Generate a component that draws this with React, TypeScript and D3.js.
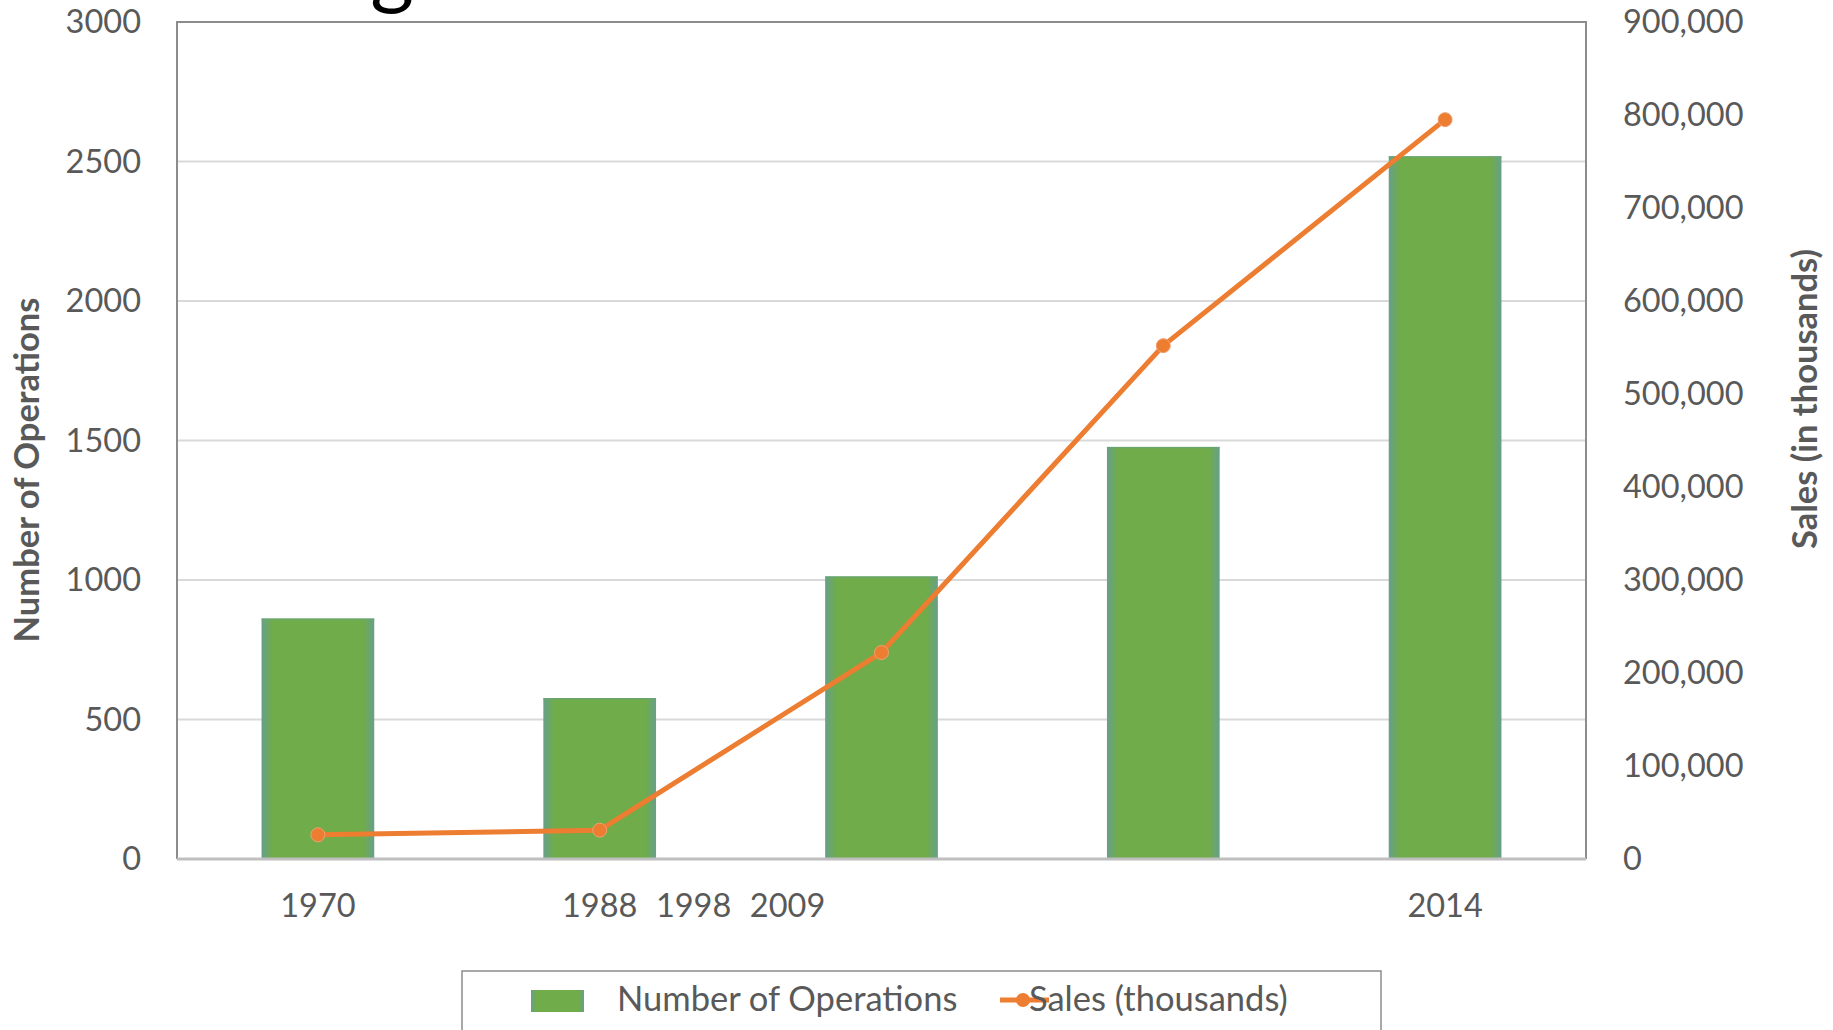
import React from "react";
import * as d3 from "d3";

const categories = ["1970", "1988", "1998", "2009", "2014"];
const operations = [862, 577, 1013, 1477, 2519];
const sales = [26000, 31000, 222000, 552000, 795000];
const xTickLabels = ["1970", "1988", "1998", "2009", "2014"];
const xTickIndex = [0, 1, 4 / 3, 5 / 3, 4];
const leftTicks = [0, 500, 1000, 1500, 2000, 2500, 3000];
const rightTicks = [0, 100000, 200000, 300000, 400000, 500000, 600000, 700000, 800000, 900000];

const W = 1833;
const H = 1030;
const L = 177;
const R = 1586;
const T = 22;
const B = 859;
const FONT = "Lato, 'Open Sans', sans-serif";
const GRAY = "#595959";

export default function App() {
  const x = d3.scaleBand<string>().domain(categories).range([L, R]).paddingInner(0.6).paddingOuter(0.3);
  const xi = d3.scaleLinear().domain([-0.5, categories.length - 0.5]).range([L, R]);
  const yL = d3.scaleLinear().domain([0, 3000]).range([B, T]);
  const yR = d3.scaleLinear().domain([0, 900000]).range([B, T]);
  const fmt = d3.format(",");
  const line = d3
    .line<number>()
    .x((_, i) => (x(categories[i]) as number) + x.bandwidth() / 2)
    .y((d) => yR(d));

  return (
    <svg width={W} height={H} style={{ position: "absolute", left: 0, top: 0, background: "#fff" }} fontFamily={FONT}>
      <defs>
        <linearGradient id="barH" x1="0" x2="1" y1="0" y2="0">
          <stop offset="0" stopColor="#66a08a" />
          <stop offset="0.1" stopColor="#70ac49" />
          <stop offset="0.9" stopColor="#70ac49" />
          <stop offset="1" stopColor="#66a08a" />
        </linearGradient>
        <linearGradient id="barV" x1="0" x2="0" y1="0" y2="1">
          <stop offset="0" stopColor="#66a08a" stopOpacity="0.8" />
          <stop offset="0.5" stopColor="#70ac49" stopOpacity="0" />
          <stop offset="1" stopColor="#70ac49" stopOpacity="0" />
        </linearGradient>
      </defs>
      <rect x={0} y={0} width={W} height={H} fill="#fff" />
      <text x={392} y={-2} fontSize={84} textAnchor="middle" fill="#000" fontFamily={FONT}>
        g
      </text>

      {/* gridlines */}
      {leftTicks.map((t) => (
        <line key={"g" + t} x1={L} x2={R} y1={yL(t)} y2={yL(t)} stroke="#d9d9d9" strokeWidth={2} />
      ))}

      {/* plot border */}
      <path d={`M${L},${B} L${L},${T} L${R},${T} L${R},${B}`} fill="none" stroke="#8c8c8c" strokeWidth={2} />

      {/* bars */}
      {operations.map((v, i) => {
        const bx = x(categories[i]) as number;
        const by = yL(v);
        const h = yL(0) - by;
        return (
          <g key={"b" + i}>
            <rect x={bx} y={by} width={x.bandwidth()} height={h} fill="url(#barH)" />
            <rect x={bx} y={by} width={x.bandwidth()} height={Math.min(6, h)} fill="url(#barV)" />
          </g>
        );
      })}

      {/* x axis line */}
      <line x1={L} x2={R} y1={B} y2={B} stroke="#bfbfbf" strokeWidth={3} />

      {/* line series */}
      <path d={line(sales) as string} fill="none" stroke="#ed7d31" strokeWidth={5} strokeLinejoin="round" />
      {sales.map((v, i) => (
        <circle
          key={"c" + i}
          cx={(x(categories[i]) as number) + x.bandwidth() / 2}
          cy={yR(v)}
          r={7}
          fill="#ed7d31"
          stroke="#f0a070"
          strokeWidth={1}
        />
      ))}

      {/* left ticks */}
      {leftTicks.map((t) => (
        <text key={"l" + t} x={141} y={yL(t)} dy="0.35em" textAnchor="end" fontSize={32.5} fill={GRAY}>
          {t}
        </text>
      ))}
      {/* right ticks */}
      {rightTicks.map((t) => (
        <text key={"r" + t} x={1623} y={yR(t)} dy="0.35em" textAnchor="start" fontSize={32.5} fill={GRAY}>
          {fmt(t)}
        </text>
      ))}
      {/* x labels */}
      {xTickLabels.map((t, i) => (
        <text key={"x" + t} x={xi(xTickIndex[i])} y={917} textAnchor="middle" fontSize={32.5} fill={GRAY}>
          {t}
        </text>
      ))}

      {/* axis titles */}
      <text
        transform={`translate(39,470) rotate(-90)`}
        textAnchor="middle"
        fontSize={34.5}
        fontWeight="bold"
        fill={GRAY}
      >
        Number of Operations
      </text>
      <text
        transform={`translate(1817,399) rotate(-90)`}
        textAnchor="middle"
        fontSize={34.5}
        fontWeight="bold"
        fill={GRAY}
      >
        Sales (in thousands)
      </text>

      {/* legend */}
      <rect x={462} y={971} width={919} height={80} fill="#fff" stroke="#8c8c8c" strokeWidth={1.5} />
      <rect x={531} y={990} width={53} height={22} fill="url(#barH)" />
      <text x={617} y={1011} fontSize={34.5} fill={GRAY}>
        Number of Operations
      </text>
      <line x1={1000} x2={1049} y1={1000} y2={1000} stroke="#ed7d31" strokeWidth={5} />
      <circle cx={1023} cy={1000} r={7} fill="#ed7d31" />
      <text x={1029} y={1011} fontSize={34.5} fill={GRAY}>
        Sales (thousands)
      </text>
    </svg>
  );
}
